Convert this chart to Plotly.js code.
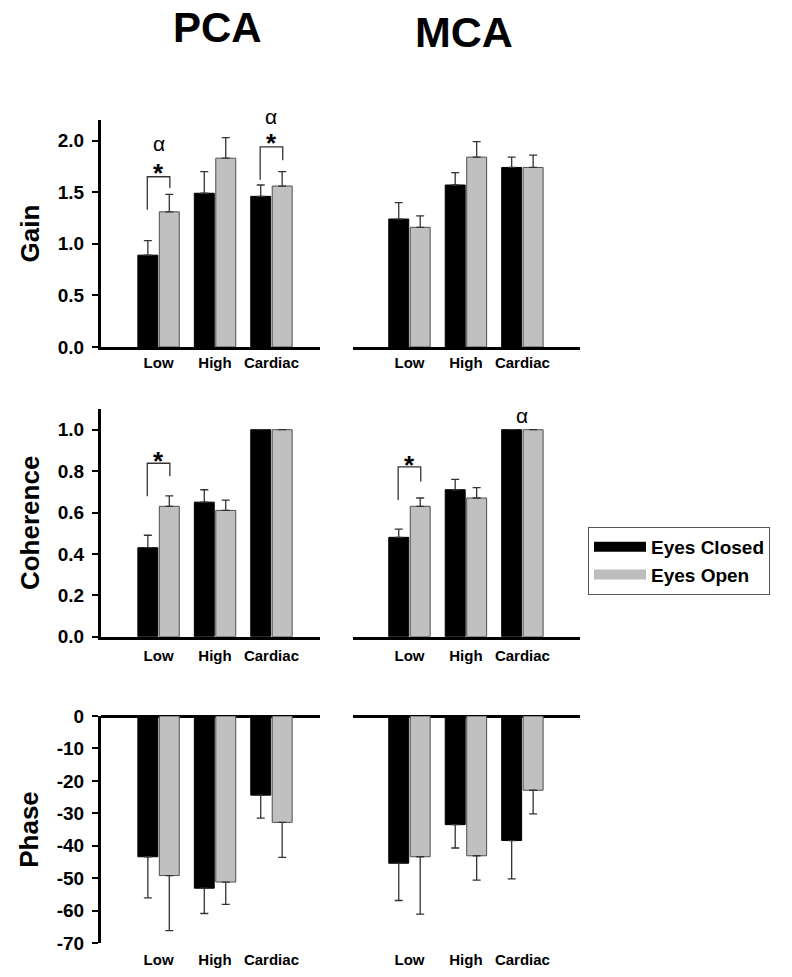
<!DOCTYPE html>
<html><head><meta charset="utf-8">
<script src="https://cdn.plot.ly/plotly-3.0.1.min.js"></script>
<style>html,body{margin:0;padding:0;background:#fff}</style>
</head><body>
<div id="chart" style="width:792px;height:977px"></div>
<script>
// ---- data ----
const categories = ['Low', 'High', 'Cardiac'];
const seriesNames = ['Eyes Closed', 'Eyes Open'];
const panelTitles = ['PCA', 'MCA'];
const measureNames = ['Gain', 'Coherence', 'Phase'];

const pcaGainClosed = [0.89, 1.49, 1.46];
const pcaGainClosedErr = [0.14, 0.21, 0.11];
const pcaGainOpen = [1.31, 1.83, 1.56];
const pcaGainOpenErr = [0.17, 0.20, 0.14];

const mcaGainClosed = [1.24, 1.57, 1.74];
const mcaGainClosedErr = [0.16, 0.12, 0.10];
const mcaGainOpen = [1.16, 1.84, 1.74];
const mcaGainOpenErr = [0.11, 0.15, 0.12];

const pcaCohClosed = [0.43, 0.65, 1.00];
const pcaCohClosedErr = [0.06, 0.06, null];
const pcaCohOpen = [0.63, 0.61, 1.00];
const pcaCohOpenErr = [0.05, 0.05, null];

const mcaCohClosed = [0.48, 0.71, 1.00];
const mcaCohClosedErr = [0.04, 0.05, null];
const mcaCohOpen = [0.63, 0.67, 1.00];
const mcaCohOpenErr = [0.04, 0.05, null];

const pcaPhaseClosed = [-43.4, -53.1, -24.4];
const pcaPhaseClosedErr = [12.7, 7.8, 7.1];
const pcaPhaseOpen = [-49.2, -51.2, -32.8];
const pcaPhaseOpenErr = [17.0, 6.9, 10.8];

const mcaPhaseClosed = [-45.4, -33.5, -38.4];
const mcaPhaseClosedErr = [11.5, 7.2, 11.8];
const mcaPhaseOpen = [-43.4, -43.1, -22.9];
const mcaPhaseOpenErr = [17.7, 7.5, 7.3];

const gainTicks = [0, 0.5, 1.0, 1.5, 2.0];
const cohTicks = [0, 0.2, 0.4, 0.6, 0.8, 1.0];
const phaseTicks = [0, -10, -20, -30, -40, -50, -60, -70];

// ---- styling ----
const FONT = 'Liberation Sans, Arial, Helvetica, sans-serif';
const colors = ['#000000', '#c0c0c0'];
const outline = ['#000000', '#505050'];
const xs = categories.map((c, i) => i);
const toNaN = a => a.map(v => (v === null ? NaN : v));
const zeros = a => a.map(() => 0);

function barTrace(k, y, err, xa, ya, negative) {
  const e = toNaN(err);
  return {
    type: 'bar', x: xs, y: y, name: seriesNames[k], showlegend: false,
    xaxis: xa, yaxis: ya,
    marker: { color: colors[k], line: { color: outline[k], width: 1 } },
    error_y: negative
      ? { type: 'data', symmetric: false, array: zeros(e), arrayminus: e, color: '#333', thickness: 1.3, width: 4 }
      : { type: 'data', symmetric: false, array: e, arrayminus: zeros(e), color: '#333', thickness: 1.3, width: 4 },
    hoverinfo: 'y'
  };
}

const panels = [
  ['x', 'y', pcaGainClosed, pcaGainClosedErr, pcaGainOpen, pcaGainOpenErr, false],
  ['x2', 'y2', mcaGainClosed, mcaGainClosedErr, mcaGainOpen, mcaGainOpenErr, false],
  ['x3', 'y3', pcaCohClosed, pcaCohClosedErr, pcaCohOpen, pcaCohOpenErr, false],
  ['x4', 'y4', mcaCohClosed, mcaCohClosedErr, mcaCohOpen, mcaCohOpenErr, false],
  ['x5', 'y5', pcaPhaseClosed, pcaPhaseClosedErr, pcaPhaseOpen, pcaPhaseOpenErr, true],
  ['x6', 'y6', mcaPhaseClosed, mcaPhaseClosedErr, mcaPhaseOpen, mcaPhaseOpenErr, true]
];

const data = [];
panels.forEach(p => {
  data.push(barTrace(0, p[2], p[3], p[0], p[1], p[6]));
  data.push(barTrace(1, p[4], p[5], p[0], p[1], p[6]));
});
// legend entries
seriesNames.forEach((n, k) => {
  data.push({
    type: 'scatter', mode: 'lines', x: [null], y: [null], name: n,
    xaxis: 'x', yaxis: 'y', showlegend: true, hoverinfo: 'skip',
    line: { color: k === 0 ? '#000' : '#bdbdbd', width: 11 }
  });
});

const W = 792, H = 977;
const leftDom = [101 / W, 320 / W];
const rightDom = [353 / W, 580 / W];
const rowDom = [
  [1 - 347 / H, 1 - 120 / H],
  [1 - 636.7 / H, 1 - 409 / H],
  [1 - 943 / H, 1 - 716 / H]
];
const leftRange = [-1.02, 2.86];
const rightRange = [-1.0, 3.02];

const tickFont = { family: FONT, size: 15, weight: 'bold', color: '#000' };
const yTickFont = { family: FONT, size: 19, weight: 'bold', color: '#000' };

function xAxis(dom, rng, anchor, withLine, standoff) {
  return {
    domain: dom, range: rng, anchor: anchor, tickmode: 'array', tickvals: xs, ticktext: categories,
    ticks: '', showgrid: false, zeroline: false, showline: withLine, linewidth: 3, linecolor: '#000',
    tickfont: tickFont, ticklabelstandoff: standoff, fixedrange: true
  };
}
function yAxisLeft(dom, rng, anchor, ticks, fmt, title, zl) {
  return {
    domain: dom, range: rng, anchor: anchor, tickmode: 'array', tickvals: ticks,
    ticktext: ticks.map(fmt), ticks: 'outside', ticklen: 6, tickwidth: 2, tickcolor: '#000',
    showline: true, linewidth: 3, linecolor: '#000', showgrid: false,
    zeroline: zl, zerolinewidth: 3, zerolinecolor: '#000',
    tickfont: yTickFont, ticklabelstandoff: 4,
    title: { text: title, font: { family: FONT, size: 26, weight: 'bold', color: '#000' }, standoff: 11 },
    fixedrange: true
  };
}
function yAxisRight(dom, rng, anchor, zl) {
  return {
    domain: dom, range: rng, anchor: anchor, showticklabels: false, ticks: '', showline: false,
    showgrid: false, zeroline: zl, zerolinewidth: 3, zerolinecolor: '#000', fixedrange: true
  };
}
const f1 = v => v.toFixed(1);
const f0 = v => String(v);

const bracketLine = { color: '#333', width: 1.3 };
function bracket(xa, ya, x0, x1, yl, ytop, yr) {
  return { type: 'path', xref: xa, yref: ya, line: bracketLine,
    path: `M ${x0},${yl} L ${x0},${ytop} L ${x1},${ytop} L ${x1},${yr}` };
}
function star(xa, ya, x, y) {
  return { xref: xa, yref: ya, x: x, y: y, text: '*', showarrow: false, yshift: -6,
    font: { family: FONT, size: 26, weight: 'bold', color: '#000' } };
}
function alpha(xa, ya, x, y, ys) {
  return { xref: xa, yref: ya, x: x, y: y, text: 'α', showarrow: false, yshift: ys || 0,
    font: { family: FONT, size: 21, color: '#000' } };
}

const layout = {
  width: W, height: H, margin: { l: 0, r: 0, t: 0, b: 0 },
  paper_bgcolor: '#fff', plot_bgcolor: 'rgba(0,0,0,0)',
  barmode: 'group', bargap: 0.24, bargroupgap: 0.07,
  font: { family: FONT, color: '#000' },
  xaxis: xAxis(leftDom, leftRange, 'y', true, 0),
  xaxis2: xAxis(rightDom, rightRange, 'y2', true, 0),
  xaxis3: xAxis(leftDom, leftRange, 'y3', true, 3),
  xaxis4: xAxis(rightDom, rightRange, 'y4', true, 3),
  xaxis5: xAxis(leftDom, leftRange, 'y5', false, 6),
  xaxis6: xAxis(rightDom, rightRange, 'y6', false, 6),
  yaxis: yAxisLeft(rowDom[0], [0, 2.2], 'x', gainTicks, f1, measureNames[0], false),
  yaxis2: yAxisRight(rowDom[0], [0, 2.2], 'x2', false),
  yaxis3: yAxisLeft(rowDom[1], [0, 1.1], 'x3', cohTicks, f1, measureNames[1], false),
  yaxis4: yAxisRight(rowDom[1], [0, 1.1], 'x4', false),
  yaxis5: yAxisLeft(rowDom[2], [-70, 0], 'x5', phaseTicks, f0, measureNames[2], true),
  yaxis6: yAxisRight(rowDom[2], [-70, 0], 'x6', true),
  showlegend: true,
  legend: {
    x: 588 / W, y: 1 - 527 / H, xanchor: 'left', yanchor: 'top',
    bgcolor: '#fff', bordercolor: '#555', borderwidth: 1,
    font: { family: FONT, size: 19, weight: 'bold', color: '#000' },
    itemwidth: 52, tracegroupgap: 0
  },
  shapes: [
    bracket('x', 'y', -0.2, 0.2, 1.33, 1.65, 1.54),
    bracket('x', 'y', 1.8, 2.2, 1.62, 1.94, 1.81),
    bracket('x3', 'y3', -0.2, 0.2, 0.678, 0.838, 0.775),
    bracket('x4', 'y4', -0.2, 0.2, 0.66, 0.82, 0.75)
  ],
  annotations: [
    { xref: 'paper', yref: 'paper', x: 217 / W, y: 1 - 28 / H, xanchor: 'center', yanchor: 'middle',
      text: panelTitles[0], showarrow: false,
      font: { family: FONT, size: 42, weight: 'bold', color: '#000' } },
    { xref: 'paper', yref: 'paper', x: 464 / W, y: 1 - 31.5 / H, xanchor: 'center', yanchor: 'middle',
      text: panelTitles[1], showarrow: false,
      font: { family: FONT, size: 43, weight: 'bold', color: '#000' } },
    star('x', 'y', 0, 1.74), alpha('x', 'y', 0, 1.93, 4),
    star('x', 'y', 2, 2.04), alpha('x', 'y', 2, 2.2, 4),
    star('x3', 'y3', 0, 0.878),
    star('x4', 'y4', 0, 0.86),
    alpha('x4', 'y4', 2, 1.07)
  ]
};

Plotly.newPlot('chart', data, layout, { displayModeBar: false, staticPlot: true });
</script>
</body></html>
